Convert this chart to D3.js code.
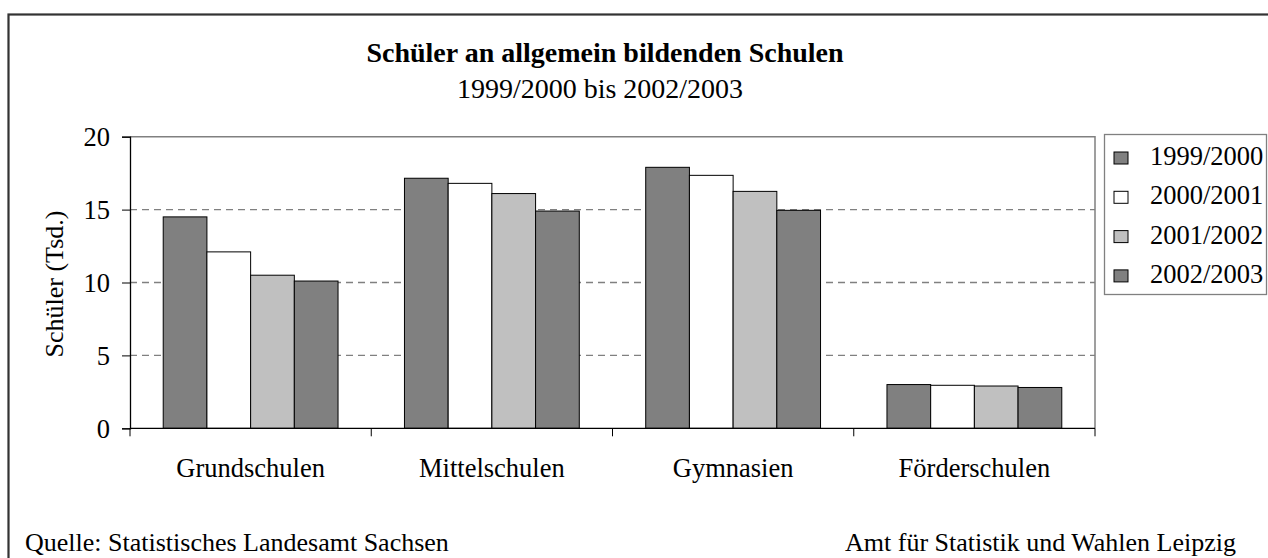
<!DOCTYPE html>
<html><head><meta charset="utf-8">
<script src="https://cdn.jsdelivr.net/npm/d3@7"></script>
<style>body{margin:0;background:#fff}svg{display:block}text{font-family:"Liberation Serif","Times New Roman",serif;fill:#000}</style>
</head><body><svg id="c" width="1268" height="558"></svg>
<script>
const categories = ["Grundschulen","Mittelschulen","Gymnasien","Förderschulen"];
const seriesNames = ["1999/2000","2000/2001","2001/2002","2002/2003"];
const v1999 = [14.5, 17.15, 17.9, 3.0];
const v2000 = [12.1, 16.8, 17.35, 2.95];
const v2001 = [10.5, 16.1, 16.25, 2.9];
const v2002 = [10.1, 14.9, 14.95, 2.8];
const yTicks = [0,5,10,15,20];
const seriesValues = [v1999, v2000, v2001, v2002];
const colors = ["#808080","#ffffff","#c0c0c0","#808080"];

const FS = 26.5;
const svg = d3.select("#c");
const L=130, R=1095, T=136.7, B=428.3;

svg.append("rect").attr("x",8.5).attr("y",14.5).attr("width",1300).attr("height",600)
  .attr("fill","none").attr("stroke","#333").attr("stroke-width",2.2);

const x0 = d3.scaleBand().domain(categories).range([L,R]).padding(0);
const x1 = d3.scaleBand().domain(seriesNames).range([0,x0.bandwidth()]).paddingInner(0).paddingOuter(0.76);
const y = d3.scaleLinear().domain([0,20]).range([B,T]);

// plot border top/right gray
svg.append("path").attr("d",`M${L},${T}H${R}V${B}`).attr("fill","none").attr("stroke","#808080").attr("stroke-width",1.5);

// grid
svg.append("g").selectAll("line").data(yTicks.filter(t=>t>0&&t<20)).join("line")
  .attr("x1",L).attr("x2",R).attr("y1",d=>y(d)).attr("y2",d=>y(d))
  .attr("stroke","#808080").attr("stroke-width",1.3).attr("stroke-dasharray","7,5");

// bars
const g = svg.append("g");
seriesNames.forEach((s,si)=>{
  g.append("g").selectAll("rect").data(categories).join("rect")
    .attr("x",c=>x0(c)+x1(s)).attr("width",x1.bandwidth())
    .attr("y",(c,ci)=>y(seriesValues[si][ci])).attr("height",(c,ci)=>B-y(seriesValues[si][ci]))
    .attr("fill",colors[si]).attr("stroke","#000").attr("stroke-width",1);
});

// y axis
const ya = svg.append("g").attr("transform",`translate(${L},0)`)
  .call(d3.axisLeft(y).tickValues(yTicks).tickSize(8).tickPadding(12));
ya.select(".domain").attr("stroke","#000").attr("stroke-width",1.3);
ya.selectAll(".tick line").attr("stroke","#000");
ya.selectAll("text").attr("font-size",FS).attr("font-family","Liberation Serif").attr("dy","0.34em");

// x axis
const xa = svg.append("g").attr("transform",`translate(0,${B})`)
  .call(d3.axisBottom(x0).tickSize(0));
xa.select(".domain").remove();
xa.selectAll("text").attr("font-size",FS).attr("font-family","Liberation Serif").attr("y",477-B).attr("dy",0);
svg.append("line").attr("x1",L).attr("x2",R).attr("y1",B).attr("y2",B).attr("stroke","#000").attr("stroke-width",1.3);
const bounds = categories.map(c=>x0(c)).concat([R]);
svg.append("g").selectAll("line").data(bounds).join("line")
  .attr("x1",d=>d).attr("x2",d=>d).attr("y1",B).attr("y2",B+8).attr("stroke","#000").attr("stroke-width",1);

// y label
svg.append("text").attr("transform","translate(63,284) rotate(-90)").attr("text-anchor","middle")
  .attr("font-size",FS-0.5).text("Schüler (Tsd.)");

// titles
svg.append("text").attr("x",605).attr("y",62).attr("text-anchor","middle").attr("font-size",28).attr("font-weight","bold")
  .text("Schüler an allgemein bildenden Schulen");
svg.append("text").attr("x",600).attr("y",98).attr("text-anchor","middle").attr("font-size",28)
  .text("1999/2000 bis 2002/2003");

// legend
svg.append("rect").attr("x",1104.5).attr("y",134.5).attr("width",162).attr("height",160)
  .attr("fill","#fff").attr("stroke","#808080").attr("stroke-width",1.3);
const lg = svg.append("g").selectAll("g").data(seriesNames).join("g")
  .attr("transform",(d,i)=>`translate(1114,${165+i*39.3})`);
lg.append("rect").attr("x",0).attr("y",-13).attr("width",14).attr("height",12)
  .attr("fill",(d,i)=>colors[i]).attr("stroke","#000").attr("stroke-width",1);
lg.append("text").attr("x",36).attr("y",0).attr("font-size",FS).text(d=>d);

// footer
svg.append("text").attr("x",25).attr("y",551).attr("font-size",26).text("Quelle: Statistisches Landesamt Sachsen");
svg.append("text").attr("x",1236).attr("y",551).attr("text-anchor","end").attr("font-size",26).text("Amt für Statistik und Wahlen Leipzig");
</script></body></html>
